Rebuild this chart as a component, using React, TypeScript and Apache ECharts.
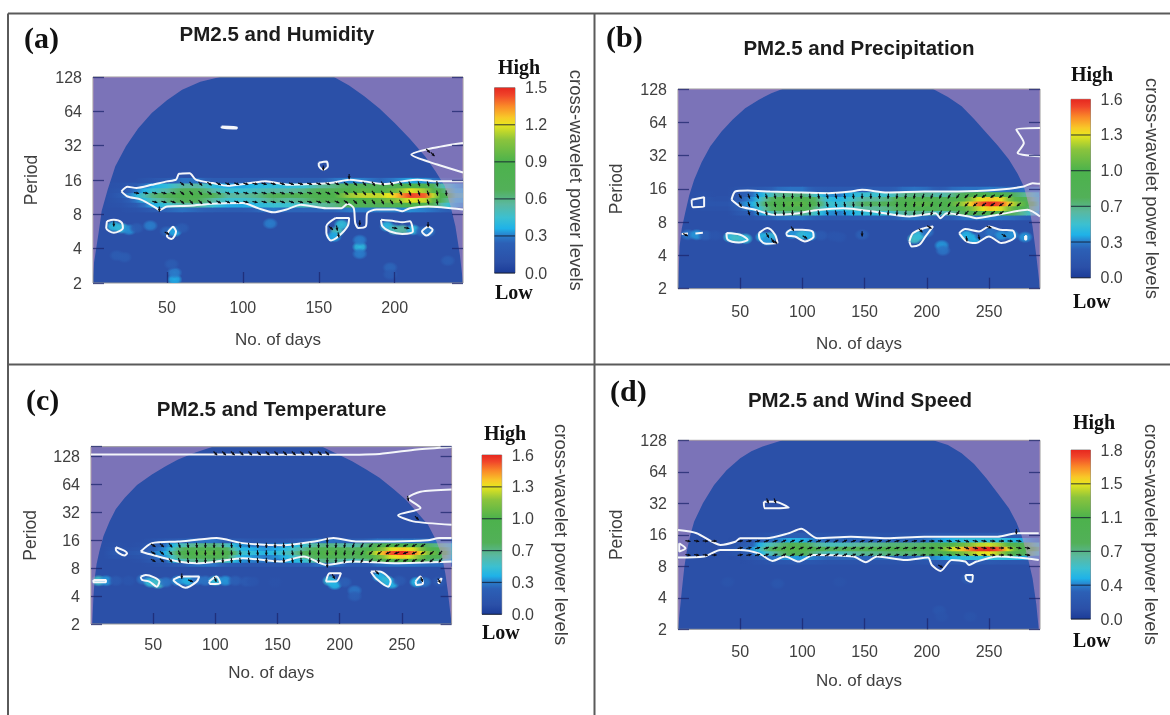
import React, { useEffect, useRef } from "react";
import * as echarts from "echarts";

// ---------- shared readings ----------
const periodLogsBand = [3.14, 3.28, 3.42, 3.56, 3.7, 3.84, 3.98];
const dayTicksA = [50, 100, 150, 200];
const dayTicksB = [50, 100, 150, 200, 250];
const knotsA = [0, 10, 20, 30, 40, 50, 60, 70, 80, 90, 100, 110, 120, 130, 140, 150, 160, 170, 180, 190, 200, 210, 220, 230, 240, 250];
const knotsB = [0, 10, 20, 30, 40, 50, 60, 70, 80, 90, 100, 110, 120, 130, 140, 150, 160, 170, 180, 190, 200, 210, 220, 230, 240, 250, 260, 270, 280, 290];
const scaleT = [0, 0.06, 0.16, 0.2, 0.24, 0.3, 0.37, 0.45, 0.6, 0.72, 0.8, 0.84, 0.9, 0.96, 1];
const scaleHex = ["#1c3c98", "#2b50a8", "#2c60b6", "#2a7cca", "#1fb2e8", "#3cc0d0", "#5ab8a0", "#52b058", "#4cb24c", "#8cc43c", "#e8e61e", "#f8c828", "#fa8a28", "#f0442a", "#e6281f"];

// ---------- panel (a) ----------
const bandA = [
  [.1,.1,.1,.12,.2,.25,.28,.25,.22,.2,.2,.25,.3,.25,.25,.25,.25,.3,.3,.3,.3,.32,.3,.25,.2,.2],
  [.1,.1,.12,.2,.35,.45,.55,.55,.45,.35,.35,.4,.45,.45,.5,.55,.6,.7,.7,.7,.8,.9,.85,.55,.35,.3],
  [.1,.1,.15,.3,.5,.6,.7,.7,.55,.45,.45,.5,.6,.55,.6,.7,.75,.9,.9,.95,1.05,1.2,1.15,.75,.4,.35],
  [.1,.1,.2,.4,.6,.7,.85,.85,.7,.55,.55,.6,.7,.7,.75,.85,.9,1.1,1.15,1.15,1.25,1.45,1.4,.9,.5,.4],
  [.1,.1,.15,.3,.45,.55,.7,.7,.55,.45,.45,.5,.55,.55,.6,.7,.75,.9,.95,.9,1.0,1.2,1.1,.75,.4,.35],
  [.1,.1,.12,.2,.35,.42,.55,.55,.42,.35,.35,.4,.42,.42,.45,.55,.6,.7,.72,.68,.75,.9,.85,.55,.35,.3],
  [.1,.1,.1,.1,.15,.2,.28,.28,.2,.2,.2,.2,.22,.22,.22,.22,.28,.32,.3,.25,.3,.35,.32,.25,.2,.2],
];
const patchesA = [[15,2.65,.4],[20,2.6,.42],[25,2.55,.32],[30,2.6,.2],[39,2.67,.3],[50,2.5,.25],[55,2.5,.35],[60,2.6,.2],[17,1.8,.2],[22,1.75,.2],[55,1.1,.35],[55,1.3,.3],[53,1.55,.2],[118,2.73,.3],[177,2.05,.4],[177,1.85,.3],[177,2.25,.3],[197,1.45,.25],[197,1.25,.2],[235,1.65,.22],[162,2.5,.5],[165,2.7,.42],[160,2.35,.35],[195,2.65,.4],[200,2.55,.5],[205,2.55,.55],[212,2.55,.4],[218,2.5,.25],[222,2.5,.3]];
const coiLeftA = [[1,1],[2,1.6],[5,2.46],[7,3.1],[11,3.72],[16,4.4],[23,4.98],[31,5.5],[40,5.95],[50,6.32],[60,6.63],[72,6.86],[85,7]];
const coiRightA = [[160,7],[170,6.75],[180,6.44],[190,6.08],[200,5.66],[210,5.2],[220,4.69],[227,4.25],[233,3.82],[237,3.2],[240,2.65],[243,1.8],[245,1]];
const contoursA = [
  [[20,3.67],[24,3.8],[30,3.77],[40,3.86],[50,3.96],[56,4.01],[58,4.18],[65,4.2],[69,4.01],[80,3.91],[90,3.83],[105,3.91],[115,3.96],[130,3.86],[145,3.88],[160,3.93],[170,4.01],[180,3.96],[193,3.88],[205,3.96],[215,4.01],[228,3.96],[245,3.96]],
  [[20,3.67],[24,3.52],[33,3.43],[43,3.18],[45,3.12],[50,3.23],[65,3.25],[80,3.31],[100,3.33],[110,3.18],[120,3.06],[130,3.16],[138,3.28],[155,3.18],[165,3.18],[169,3.31],[173,3.18],[174,2.75],[176,2.6],[181,2.65],[182,3.04],[188,3.14],[200,3.14],[205,3.09],[210,3.18],[222,3.23],[245,3.14]],
  [[245,5.08],[225,4.93],[211,4.74],[228,4.45],[245,4.22]],
];
const blobsA = [
  [[10.5,2.8],[15,2.84],[20,2.77],[21,2.6],[15,2.46],[10,2.6]],
  [[54,2.65],[56,2.5],[53,2.28],[50,2.36],[51,2.5]],
  [[86,5.56],[96,5.54],[96,5.5],[86,5.52]],
  [[150,4.5],[155,4.54],[156,4.4],[153,4.3],[150,4.42]],
  [[161,2.89],[170,2.89],[169,2.65],[163,2.36],[158,2.24],[155,2.46],[155,2.65]],
  [[191,2.84],[200,2.8],[205,2.77],[210,2.8],[212,2.5],[205,2.43],[197,2.5],[192,2.65]],
  [[222,2.65],[225,2.55],[221,2.38],[218,2.5]],
];
const arrowDaysA = [30,36,42,48,54,60,66,72,78,84,90,96,102,108,114,120,126,132,138,144,150,156,162,168,174,180,186,192,198,204,210,216,222,228,234];
const arrowAnglesA = [-10,-10,-15,-15,-20,-40,-50,-45,-35,-30,-25,-20,-15,-10,-15,-15,-20,-20,-15,-15,-20,-25,-25,-35,-45,-50,-55,-60,-55,-60,-65,-70,-70,-80,-85];
const arrowRowsA = [[3.36,40,232],[3.62,30,235],[3.89,58,230]];
const extraArrowsA = [[15,2.72,-90],[50,2.45,-30],[162,2.6,-80],[163,2.4,-80],[158,2.6,-40],[177,2.75,-90],[200,2.6,-10],[208,2.6,-10],[222,2.7,-90],[153,4.35,-90],[222,4.85,-45],[225,4.75,-45],[45,3.15,-90],[170,4.1,-90]];
const labelsA = ["0.0", "0.3", "0.6", "0.9", "1.2", "1.5"];

// ---------- panel (b) ----------
const bandB = [
  [.1,.1,.1,.1,.1,.12,.15,.22,.28,.3,.3,.25,.2,.2,.2,.22,.22,.22,.28,.3,.28,.22,.25,.3,.3,.32,.3,.28,.25,.22],
  [.1,.1,.1,.1,.1,.2,.25,.45,.6,.62,.62,.5,.35,.32,.4,.45,.45,.48,.58,.62,.6,.52,.6,.75,.85,.95,.85,.7,.55,.38],
  [.1,.1,.12,.12,.12,.25,.35,.6,.8,.85,.85,.65,.45,.4,.5,.6,.6,.65,.75,.85,.85,.75,.85,1.0,1.2,1.35,1.25,1.0,.75,.45],
  [.1,.1,.15,.15,.15,.3,.4,.7,.95,1.0,1.0,.8,.5,.45,.6,.7,.7,.75,.9,1.0,1.0,.9,1.0,1.2,1.45,1.6,1.5,1.2,.9,.5],
  [.1,.1,.15,.12,.12,.25,.35,.6,.8,.85,.85,.7,.45,.4,.5,.6,.6,.65,.8,.85,.85,.75,.85,1.0,1.25,1.35,1.3,1.0,.75,.45],
  [.1,.1,.12,.1,.1,.22,.3,.45,.6,.65,.65,.52,.35,.32,.42,.48,.48,.5,.6,.65,.62,.55,.62,.75,.9,.95,.9,.7,.6,.42],
  [.1,.1,.1,.1,.1,.14,.18,.22,.28,.3,.3,.22,.2,.2,.2,.22,.22,.22,.28,.3,.28,.22,.28,.3,.3,.32,.3,.28,.3,.32],
];
const patchesB = [[8,2.62,.3],[15,2.62,.35],[22,2.6,.25],[30,2.6,.15],[42,2.55,.45],[48,2.52,.5],[54,2.5,.45],[68,2.55,.4],[74,2.55,.45],[72,2.45,.35],[92,2.65,.35],[100,2.62,.45],[106,2.6,.4],[115,2.6,.2],[125,2.58,.15],[130,2.55,.15],[148,2.62,.25],[190,2.5,.5],[194,2.6,.45],[200,2.7,.3],[212,2.3,.35],[213,2.15,.3],[232,2.6,.4],[238,2.5,.4],[244,2.6,.25],[252,2.7,.3],[260,2.6,.35],[268,2.62,.35],[279,2.55,.35]];
const coiLeftB = [[0,1],[1.3,2.27],[3,2.8],[5.7,3.27],[9,3.8],[13,4.27],[19,4.8],[26,5.28],[35,5.72],[44,6.08],[54,6.42],[65,6.68],[75,6.87],[84,7]];
const coiRightB = [[205,7],[217,6.76],[228,6.48],[238,6.1],[248,5.68],[257,5.3],[266,4.88],[273,4.45],[278,4.07],[282,3.5],[285,2.87],[288,2],[291,1]];
const contoursB = [
  [[43,3.67],[46,3.92],[56,3.95],[74,3.92],[97,3.89],[121,3.87],[139,3.92],[148,3.97],[168,3.89],[198,3.92],[225,3.92],[257,3.97],[278,4.07],[285,4.17],[291,4.15]],
  [[43,3.67],[50,3.47],[62,3.37],[77,3.22],[97,3.27],[109,3.35],[133,3.42],[157,3.32],[186,3.17],[207,3.27],[211,3.12],[216,3.27],[234,3.17],[240,3.12],[257,3.22],[281,3.37],[291,3.17]],
  [[291,5.83],[272,5.78],[278,5.38],[273,5.08],[291,4.98]],
  [[3,2.64],[8,2.66]],
  [[14,2.66],[20,2.68]],
];
const blobsB = [
  [[11,3.67],[21,3.75],[21,3.47],[12,3.45]],
  [[39,2.67],[50,2.62],[56,2.47],[49,2.39],[40,2.47]],
  [[65,2.67],[72,2.82],[78,2.62],[80,2.37],[71,2.35],[66,2.47]],
  [[87,2.67],[91,2.77],[100,2.77],[108,2.72],[109,2.57],[102,2.42],[94,2.57],[88,2.59]],
  [[186,2.42],[189,2.67],[198,2.82],[205,2.87],[199,2.57],[194,2.32],[188,2.27]],
  [[226,2.67],[231,2.79],[242,2.72],[250,2.87],[259,2.77],[269,2.75],[271,2.57],[260,2.37],[250,2.57],[239,2.37],[232,2.42]],
  [[279,2.58],[280,2.58],[280,2.48],[279,2.48]],
];
const arrowDaysB = [50,57,64,71,78,85,92,99,106,113,120,127,134,141,148,155,162,169,176,183,190,197,204,211,218,225,232,239,246,253,260,267,274,281,288];
const arrowAnglesB = [-60,-70,-70,-75,-80,-85,-90,-90,-85,-80,-75,-75,-80,-85,-90,-90,-90,-95,-95,-100,-100,250,250,245,240,235,225,220,215,215,215,220,220,230,240];
const arrowRowsB = [[3.28,57,262],[3.53,50,278],[3.78,50,270]];
const extraArrowsB = [[6,2.62,-30],[72,2.6,-60],[76,2.45,-60],[78,2.4,-30],[92,2.8,-60],[102,2.55,-30],[148,2.65,-90],[195,2.75,-45],[202,2.85,-30],[232,2.5,-80],[242,2.55,-80],[250,2.85,-20],[262,2.6,-30]];
const labelsB = ["0.0", "0.3", "0.7", "1.0", "1.3", "1.6"];

// ---------- panel (c) ----------
const bandC = [
  [.1,.1,.1,.1,.1,.12,.15,.22,.28,.3,.3,.22,.2,.18,.18,.18,.2,.22,.28,.3,.28,.22,.22,.28,.3,.3,.3,.28,.28,.22],
  [.1,.1,.1,.1,.12,.2,.25,.5,.6,.65,.65,.5,.35,.32,.3,.32,.38,.45,.58,.65,.6,.52,.6,.75,.9,.95,.85,.7,.6,.38],
  [.1,.1,.15,.12,.15,.25,.35,.65,.8,.85,.85,.7,.4,.35,.32,.35,.45,.6,.75,.85,.8,.7,.8,1.05,1.25,1.35,1.2,.95,.8,.45],
  [.1,.1,.2,.15,.2,.3,.4,.8,.95,1.0,1.0,.85,.5,.45,.4,.45,.55,.7,.9,1.0,.95,.85,.95,1.25,1.5,1.6,1.45,1.15,.95,.5],
  [.1,.1,.15,.12,.15,.25,.35,.65,.8,.85,.85,.7,.42,.38,.35,.38,.48,.6,.75,.85,.8,.7,.8,1.05,1.25,1.35,1.25,1.0,.8,.5],
  [.1,.1,.12,.1,.12,.22,.3,.5,.6,.65,.65,.52,.35,.32,.3,.32,.38,.48,.6,.65,.6,.55,.62,.78,.9,.95,.88,.7,.62,.45],
  [.1,.1,.1,.1,.1,.14,.18,.22,.28,.3,.3,.22,.2,.16,.15,.16,.18,.22,.28,.3,.28,.22,.25,.3,.3,.3,.3,.28,.3,.32],
];
const patchesC = [[6,2.55,.5],[12,2.55,.35],[20,2.55,.2],[30,2.55,.15],[42,2.6,.3],[48,2.5,.45],[54,2.45,.5],[60,2.5,.3],[70,2.55,.35],[78,2.55,.4],[85,2.58,.3],[92,2.55,.3],[100,2.55,.45],[108,2.55,.35],[116,2.55,.25],[125,2.52,.2],[130,2.52,.15],[148,2.5,.12],[192,2.55,.45],[196,2.42,.4],[204,2.5,.25],[212,2.2,.3],[212,2.0,.25],[232,2.7,.4],[238,2.55,.45],[242,2.45,.4],[248,2.55,.2],[262,2.5,.4],[268,2.5,.3],[280,2.52,.2]];
const coiLeftC = [[1,1],[2,2],[3,2.64],[4.5,3.15],[6.7,3.6],[10,4.15],[15,4.68],[20,5.12],[27,5.52],[37,5.98],[49,6.36],[60,6.66],[70,6.9],[84,7.15],[98,7.36]];
const coiRightC = [[186,7.36],[198,7.1],[210,6.84],[221,6.55],[232,6.24],[243,5.85],[253,5.46],[262,5.02],[271,4.56],[277,4.05],[282,3.48],[285,2.8],[287,2.16],[290,1]];
const contoursC = [
  [[40,3.6],[49,3.9],[70,3.96],[85,4.02],[101,4.08],[122,3.9],[155,3.82],[180,3.96],[195,4.08],[213,3.96],[244,3.96],[271,4.0],[280,4.08],[290,4.08]],
  [[40,3.6],[49,3.48],[70,3.24],[85,3.18],[101,3.24],[122,3.36],[152,3.24],[171,3.42],[189,3.12],[210,3.24],[244,3.18],[290,3.24]],
  [[0,7.08],[60,7.08],[140,7.07],[190,7.07],[232,7.1],[262,7.26],[290,7.35]],
  [[290,5.82],[265,5.74],[255,5.52],[265,5.16],[247,4.9],[259,4.68],[290,4.56]],
];
const blobsC = [
  [[20,3.75],[29,3.54],[27,3.46],[20,3.66]],
  [[2,2.58],[12,2.58],[12,2.5],[2,2.5]],
  [[40,2.7],[44,2.76],[55,2.52],[53,2.34],[47,2.52],[41,2.58]],
  [[66,2.58],[73,2.7],[87,2.7],[85,2.52],[76,2.3],[69,2.46]],
  [[95,2.52],[101,2.7],[104,2.46],[96,2.43]],
  [[189,2.52],[192,2.82],[201,2.82],[197,2.52]],
  [[225,2.88],[232,2.88],[241,2.52],[239,2.34],[229,2.64]],
  [[261,2.52],[265,2.7],[267,2.46],[262,2.4]],
  [[279,2.52],[282,2.64],[280,2.46]],
];
const arrowDaysC = [50,57,64,71,78,85,92,99,106,113,120,127,134,141,148,155,162,169,176,183,190,197,204,211,218,225,232,239,246,253,260,267,274,281,288];
const arrowAnglesC = [-30,-40,-50,-70,-80,-85,-90,-90,-90,-85,-80,-80,-85,-90,-90,-85,-80,-85,-90,-90,-90,-95,-100,-110,240,225,215,205,200,200,205,210,220,230,240];
const arrowRowsC = [[3.28,50,285],[3.55,50,285],[3.82,50,270]];
const arrowTopRowC = [100,107,114,121,128,135,142,149,156,163,170,177,184,190];
const extraArrowsC = [[73,2.72,-90],[80,2.55,-20],[100,2.6,-70],[195,2.7,-60],[230,2.85,-45],[266,2.6,-70],[280,2.55,-60],[255,5.5,-80],[262,4.8,-45],[190,4.0,-90],[190,3.12,-90]];
const labelsC = ["0.0", "0.3", "0.7", "1.0", "1.3", "1.6"];

// ---------- panel (d) ----------
const bandD = [
  [.1,.1,.1,.1,.1,.1,.12,.15,.18,.2,.2,.18,.15,.15,.15,.15,.15,.15,.15,.15,.18,.2,.2,.2,.22,.22,.2,.2,.2,.2],
  [.12,.12,.1,.1,.1,.12,.2,.3,.35,.4,.4,.35,.3,.3,.3,.3,.3,.3,.3,.3,.35,.4,.45,.5,.5,.5,.5,.45,.4,.35],
  [.12,.12,.12,.1,.12,.2,.3,.55,.7,.85,.85,.7,.6,.6,.65,.7,.7,.75,.75,.75,.8,.9,1.1,1.25,1.4,1.45,1.3,.95,.8,.55],
  [.12,.12,.12,.1,.15,.25,.4,.7,.9,1.1,1.1,.9,.8,.8,.85,.9,.9,.95,.95,.95,1.0,1.15,1.4,1.55,1.75,1.8,1.65,1.2,1.0,.7],
  [.12,.12,.12,.1,.12,.2,.3,.55,.7,.85,.85,.7,.6,.6,.65,.7,.7,.75,.75,.75,.8,.9,1.1,1.2,1.35,1.4,1.3,.95,.8,.55],
  [.12,.12,.1,.1,.1,.12,.2,.3,.35,.45,.45,.35,.3,.3,.3,.3,.3,.3,.3,.3,.35,.4,.45,.5,.5,.5,.5,.45,.4,.35],
  [.1,.1,.1,.1,.1,.1,.12,.15,.18,.25,.25,.18,.15,.15,.15,.15,.15,.15,.15,.15,.18,.2,.2,.2,.22,.22,.22,.22,.22,.22],
];
const patchesD = [[40,2.5,.15],[80,2.45,.17],[130,2.5,.14],[210,1.6,.17],[212,1.4,.15],[235,1.4,.15],[233,2.6,.25]];
const coiLeftD = [[0,1],[3,2.2],[5,2.95],[7,3.47],[10,4.0],[13,4.42],[20,5.0],[29,5.58],[39,6.05],[50,6.43],[59,6.65],[68,6.8],[84,7]];
const coiRightD = [[205,7],[217,6.85],[228,6.59],[238,6.25],[248,5.79],[257,5.32],[266,4.84],[272,4.4],[276,4.0],[281,3.3],[285,2.62],[288,1.8],[290,1]];
const contoursD = [
  [[0,4.15],[15,4.05],[34,3.68],[46,3.78],[50,3.89],[71,3.89],[89,4.05],[99,4.19],[112,3.89],[139,3.94],[168,3.89],[198,3.94],[228,3.94],[257,3.94],[272,4.05],[290,4.05]],
  [[0,3.28],[21,3.31],[34,3.52],[50,3.52],[65,3.41],[76,3.17],[86,3.31],[97,3.15],[109,3.36],[141,3.31],[151,3.13],[160,3.31],[183,3.2],[201,3.28],[204,3.04],[211,2.85],[220,3.2],[231,3.15],[234,3.04],[240,3.15],[257,3.31],[281,3.25],[290,3.2]],
];
const blobsD = [
  [[69,5.05],[78,5.05],[89,4.86],[70,4.84]],
  [[231,2.72],[237,2.72],[236,2.51],[232,2.57]],
  [[1,3.73],[6,3.57],[1,3.47]],
];
const arrowDaysD = [8,15,22,29,50,57,64,71,78,85,92,99,106,113,120,127,134,141,148,155,162,169,176,183,190,197,204,211,218,225,232,239,246,253,260,267,274,281,288];
const arrowAnglesD = [-10,-10,-5,0,10,10,15,20,20,25,25,25,20,20,25,25,25,20,20,20,20,20,15,15,10,5,0,-5,-10,-15,-20,-15,-10,-5,0,-5,-10,-10,-10];
const arrowRowsD = [[3.36,8,285],[3.58,50,285],[3.8,8,280]];
const extraArrowsD = [[72,5.08,-70],[78,5.08,-70],[272,4.1,-90],[211,3.0,-30]];
const labelsD = ["0.0", "0.4", "0.7", "1.1", "1.5", "1.8"];

const periodLevels = [2, 4, 8, 16, 32, 64, 128];
const colorbarSteps = [0, 1, 2, 3, 4, 5];

// ---------- layout (separate from the readings) ----------
const panels = [
  { tag: "(a)", title: "PM2.5 and Humidity", band: bandA, knots: knotsA, patches: patchesA, coiL: coiLeftA, coiR: coiRightA, contours: contoursA, blobs: blobsA,
    aDays: arrowDaysA, aAngles: arrowAnglesA, aRows: arrowRowsA, aExtra: extraArrowsA, top: [] as number[], labels: labelsA, max: 1.5, ticks: dayTicksA, xMin: 1.3, xMax: 245, yMax: 128,
    g: [93, 77, 370, 206], cb: [494.5, 87.7, 20.5, 185.3], tagXY: [24, 22], titleXY: [272, 18], high: [498, 57], low: [495, 282], lblM: 16, nameG: 48, pGap: 53, cbGap: 52 },
  { tag: "(b)", title: "PM2.5 and Precipitation", band: bandB, knots: knotsB, patches: patchesB, coiL: coiLeftB, coiR: coiRightB, contours: contoursB, blobs: blobsB,
    aDays: arrowDaysB, aAngles: arrowAnglesB, aRows: arrowRowsB, aExtra: extraArrowsB, top: [] as number[], labels: labelsB, max: 1.6, ticks: dayTicksB, xMin: 0, xMax: 291, yMax: 128,
    g: [678, 89, 362, 199.7], cb: [1071, 99.3, 19.5, 178.4], tagXY: [606, 21], titleXY: [854, 32], high: [1071, 64], low: [1073, 291], lblM: 15, nameG: 46, pGap: 53, cbGap: 52 },
  { tag: "(c)", title: "PM2.5 and Temperature", band: bandC, knots: knotsB, patches: patchesC, coiL: coiLeftC, coiR: coiRightC, contours: contoursC, blobs: blobsC,
    aDays: arrowDaysC, aAngles: arrowAnglesC, aRows: arrowRowsC, aExtra: extraArrowsC, top: arrowTopRowC, labels: labelsC, max: 1.6, ticks: dayTicksB, xMin: 0, xMax: 290, yMax: 164,
    g: [91, 446.7, 360.6, 177.3], cb: [482, 455, 19.7, 159.3], tagXY: [26, 384], titleXY: [266.6, 393], high: [484, 423], low: [482, 622], lblM: 12, nameG: 40, pGap: 52, cbGap: 50 },
  { tag: "(d)", title: "PM2.5 and Wind Speed", band: bandD, knots: knotsB, patches: patchesD, coiL: coiLeftD, coiR: coiRightD, contours: contoursD, blobs: blobsD,
    aDays: arrowDaysD, aAngles: arrowAnglesD, aRows: arrowRowsD, aExtra: extraArrowsD, top: [] as number[], labels: labelsD, max: 1.8, ticks: dayTicksB, xMin: 0, xMax: 291, yMax: 128,
    g: [678, 440.3, 362, 189], cb: [1071, 450, 19.5, 169], tagXY: [610, 375], titleXY: [855, 384], high: [1073, 412], low: [1073, 630], lblM: 14, nameG: 43, pGap: 53, cbGap: 51 },
];

const SANS = "'Liberation Sans', Arial, sans-serif";
const SERIF = "'Liberation Serif', 'Times New Roman', serif";
const LABEL = "#3f3f3f";
const TICK = "rgba(28,38,110,0.75)";

function hexRgb(h: string) {
  return [parseInt(h.slice(1, 3), 16), parseInt(h.slice(3, 5), 16), parseInt(h.slice(5, 7), 16)];
}
function colorAt(t: number, alpha = 1) {
  const u = Math.max(0, Math.min(1, t));
  let i = 0;
  while (i < scaleT.length - 2 && u > scaleT[i + 1]) i++;
  const f = (u - scaleT[i]) / (scaleT[i + 1] - scaleT[i]);
  const a = hexRgb(scaleHex[i]);
  const b = hexRgb(scaleHex[i + 1]);
  const c = a.map((v, k) => Math.round(v + (b[k] - v) * f));
  return `rgba(${c[0]},${c[1]},${c[2]},${alpha})`;
}

function buildOption() {
  const grid: any[] = [], xAxis: any[] = [], yAxis: any[] = [], series: any[] = [], title: any[] = [], graphic: any[] = [];

  // the outer frame of the four panels
  const frame = (x1: number, y1: number, x2: number, y2: number) =>
    graphic.push({ type: "line", silent: true, shape: { x1, y1, x2, y2 }, style: { stroke: "#5a5a5a", lineWidth: 2 } });
  frame(8, 13.5, 1170, 13.5); frame(8, 13.5, 8, 715); frame(594.5, 13.5, 594.5, 715); frame(8, 364.5, 1170, 364.5);

  panels.forEach((p) => {
    const gi = grid.length;
    const xi = xAxis.length;
    const yi = yAxis.length;
    grid.push({ left: p.g[0], top: p.g[1], width: p.g[2], height: p.g[3], show: true, backgroundColor: "#2b50a8", borderColor: "#9a9a9a", borderWidth: 1 });
    xAxis.push({
      gridIndex: gi, type: "value", min: p.xMin, max: p.xMax, z: 10,
      splitLine: { show: false }, axisLine: { show: false },
      axisTick: { show: true, inside: true, length: 11, customValues: p.ticks, lineStyle: { color: TICK, width: 1.3 } },
      axisLabel: { customValues: p.ticks, margin: p.lblM, fontFamily: SANS, fontSize: 16, color: LABEL },
      name: "No. of days", nameLocation: "middle", nameGap: p.nameG, nameTextStyle: { fontFamily: SANS, fontSize: 17, color: LABEL },
    });
    const commonY = { gridIndex: gi, type: "log", logBase: 2, min: 2, max: p.yMax, splitNumber: 6, z: 10, splitLine: { show: false }, axisLine: { show: false } };
    const isLevel = (v: number) => periodLevels.indexOf(Math.round(v)) >= 0;
    yAxis.push({
      ...commonY, position: "left",
      axisTick: { show: true, inside: true, length: 11, lineStyle: { color: TICK, width: 1.3 } },
      axisLabel: { margin: 11, padding: [4, 0, 0, 0], fontFamily: SANS, fontSize: 16, color: LABEL, formatter: (v: number) => (isLevel(v) ? String(Math.round(v)) : "") },
      name: "Period", nameLocation: "middle", nameGap: p.pGap, nameTextStyle: { fontFamily: SANS, fontSize: 17.5, color: LABEL },
    });
    yAxis.push({
      ...commonY, position: "right",
      axisTick: { show: true, inside: true, length: 11, lineStyle: { color: TICK, width: 1.3 } },
      axisLabel: { show: false },
    });
    const on = { coordinateSystem: "cartesian2d", xAxisIndex: xi, yAxisIndex: yi, silent: true, clip: true, tooltip: { show: false } };

    // power cells of the ridge, one gradient rectangle between two neighbouring days
    const cells: number[][] = [];
    p.band.forEach((row, r) => {
      row.forEach((v, i) => {
        if (i < row.length - 1 && (v > 0.1 || row[i + 1] > 0.1)) cells.push([p.knots[i], 2 ** periodLogsBand[r], v, p.knots[i + 1], row[i + 1]]);
      });
    });
    series.push({
      ...on, type: "custom", z: 2, data: cells,
      renderItem: (_: any, api: any) => {
        const per = api.value(1);
        const a = api.coord([api.value(0), per * 2 ** 0.07]);
        const b = api.coord([api.value(3), per * 2 ** -0.07]);
        const v0 = api.value(2) / p.max, v1 = api.value(4) / p.max;
        return {
          type: "rect",
          shape: { x: a[0], y: a[1] - 0.4, width: b[0] - a[0] + 0.6, height: b[1] - a[1] + 0.8 },
          style: { fill: { type: "linear", x: 0, y: 0, x2: 1, y2: 0, colorStops: [
            { offset: 0, color: colorAt(v0) }, { offset: 0.5, color: colorAt((v0 + v1) / 2) }, { offset: 1, color: colorAt(v1) },
          ] } },
        };
      },
    });

    // soft patches of power below the ridge
    series.push({
      ...on, type: "custom", z: 3, data: p.patches.map((q) => [q[0], 2 ** q[1], q[2]]),
      renderItem: (_: any, api: any) => {
        const c = api.coord([api.value(0), api.value(1)]);
        const t = api.value(2) / p.max;
        return {
          type: "rect", shape: { x: c[0] - 8, y: c[1] - 6, width: 16, height: 12 },
          style: { fill: { type: "radial", x: 0.5, y: 0.5, r: 0.5, colorStops: [
            { offset: 0, color: colorAt(t, 1) }, { offset: 0.55, color: colorAt(t, 0.85) }, { offset: 1, color: colorAt(t, 0) },
          ] } },
        };
      },
    });

    // shading outside the cone of influence
    const coiPoly = (pts: number[][], corners: number[][]) => ({
      ...on, type: "custom", z: 4, data: [[p.xMin, 2]],
      renderItem: (_: any, api: any) => ({
        type: "polygon",
        shape: { points: pts.map((q) => api.coord([q[0], 2 ** q[1]])).concat(corners.map((q) => api.coord(q))) },
        style: { fill: "rgba(203,150,200,0.5)" },
      }),
    });
    series.push(coiPoly(p.coiL, [[p.coiL[p.coiL.length - 1][0], p.yMax], [p.xMin, p.yMax], [p.xMin, 2]]));
    series.push(coiPoly(p.coiR, [[p.xMax, 2], [p.xMax, p.yMax]]));

    // white significance contours
    p.contours.forEach((c) => series.push({
      ...on, type: "line", z: 5, showSymbol: false, smooth: 0.25, data: c.map((q) => [q[0], 2 ** q[1]]),
      lineStyle: { color: "#f4f6fa", width: 2 },
    }));
    p.blobs.forEach((c) => series.push({
      ...on, type: "line", z: 5, showSymbol: false, smooth: 0.3, data: c.concat([c[0]]).map((q) => [q[0], 2 ** q[1]]),
      lineStyle: { color: "#f4f6fa", width: 2 },
    }));

    // phase arrows
    const arrows: number[][] = [];
    p.aRows.forEach((row) => p.aDays.forEach((d, i) => {
      if (d >= row[1] && d <= row[2]) arrows.push([d, 2 ** row[0], p.aAngles[i]]);
    }));
    p.top.forEach((d) => arrows.push([d, 2 ** 7.12, -45]));
    p.aExtra.forEach((q) => arrows.push([q[0], 2 ** q[1], q[2]]));
    series.push({
      ...on, type: "custom", z: 6, data: arrows,
      renderItem: (_: any, api: any) => {
        const c = api.coord([api.value(0), api.value(1)]);
        const ang = (api.value(2) * Math.PI) / 180;
        const ux = Math.cos(ang), uy = -Math.sin(ang);
        const L = 2.6;
        const tip = [c[0] + ux * L, c[1] + uy * L];
        return {
          type: "group", children: [
            { type: "line", shape: { x1: c[0] - ux * L, y1: c[1] - uy * L, x2: tip[0], y2: tip[1] }, style: { stroke: "#0c0c14", lineWidth: 1.1 } },
            { type: "polygon", shape: { points: [tip, [tip[0] - ux * 2.8 - uy * 1.5, tip[1] - uy * 2.8 + ux * 1.5], [tip[0] - ux * 2.8 + uy * 1.5, tip[1] - uy * 2.8 - ux * 1.5]] }, style: { fill: "#0c0c14" } },
          ],
        };
      },
    });

    // colour bar
    const gb = grid.length;
    grid.push({ left: p.cb[0], top: p.cb[1], width: p.cb[2], height: p.cb[3], show: true, backgroundColor: "transparent", borderColor: "#8c8c8c", borderWidth: 1 });
    const xb = xAxis.length;
    const yb = yAxis.length;
    xAxis.push({ gridIndex: gb, type: "value", min: 0, max: 1, show: false });
    yAxis.push({
      gridIndex: gb, type: "value", min: 0, max: 5, interval: 1, position: "right",
      splitLine: { show: false }, axisLine: { show: false }, axisTick: { show: false },
      axisLabel: { margin: 10, padding: [3, 0, 0, 0], fontFamily: SANS, fontSize: 16, color: LABEL, formatter: (v: number) => p.labels[Math.round(v)] },
      name: "cross-wavelet power levels", nameLocation: "middle", nameRotate: -90, nameGap: p.cbGap,
      nameTextStyle: { fontFamily: SANS, fontSize: 18.5, color: LABEL },
    });
    series.push({
      type: "custom", coordinateSystem: "cartesian2d", xAxisIndex: xb, yAxisIndex: yb, silent: true, z: 2,
      data: colorbarSteps.map((s) => [0, s]),
      renderItem: (_: any, api: any) => {
        const s = api.value(1);
        const a = api.coord([0, s]);
        const b = api.coord([1, s]);
        const kids: any[] = [];
        if (s === 0) {
          const top = api.coord([1, 5]);
          kids.push({
            type: "rect", shape: { x: a[0], y: top[1], width: top[0] - a[0], height: a[1] - top[1] },
            style: { fill: { type: "linear", x: 0, y: 1, x2: 0, y2: 0, colorStops: scaleT.map((t, i) => ({ offset: t, color: scaleHex[i] })) } },
          });
        }
        if (s < 5) kids.push({ type: "line", shape: { x1: a[0], y1: a[1], x2: b[0], y2: b[1] }, style: { stroke: "rgba(20,30,50,0.75)", lineWidth: 1.2 } });
        return { type: "group", children: kids };
      },
    });

    title.push({
      text: p.title, left: p.titleXY[0], top: p.titleXY[1], textAlign: "center",
      textStyle: { fontFamily: SANS, fontWeight: "bold", fontSize: 20.5, color: "#1c1c1c" },
    });
    const serifText = (text: string, xy: number[], size: number) => graphic.push({
      type: "text", silent: true, x: xy[0], y: xy[1],
      style: { text, fontFamily: SERIF, fontWeight: "bold", fontSize: size, fill: "#111" },
    });
    serifText(p.tag, p.tagXY, 30);
    serifText("High", p.high, 20);
    serifText("Low", p.low, 20);
  });

  return { animation: false, backgroundColor: "#ffffff", tooltip: { show: false }, grid, xAxis, yAxis, series, title, graphic };
}

export default function App() {
  const ref = useRef<HTMLDivElement>(null);
  useEffect(() => {
    const chart = echarts.init(ref.current as HTMLDivElement, undefined, { renderer: "svg" });
    chart.setOption(buildOption() as any);
    return () => chart.dispose();
  }, []);
  return <div ref={ref} style={{ position: "absolute", left: 0, top: 0, width: 1170, height: 715, filter: "blur(0.5px)" }} />;
}
